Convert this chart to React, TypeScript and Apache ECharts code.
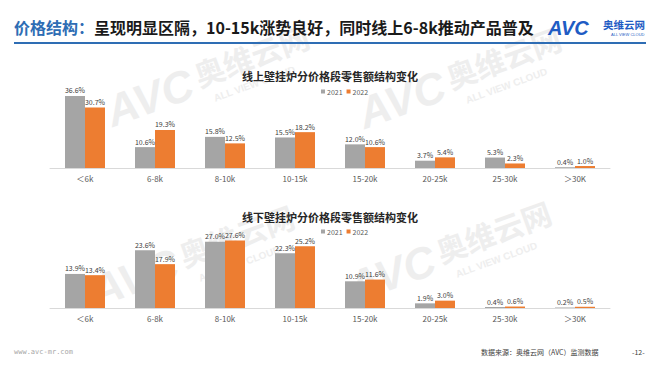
import React, { useEffect, useRef } from "react";
import * as echarts from "echarts";

const categories = ["＜6k", "6-8k", "8-10k", "10-15k", "15-20k", "20-25k", "25-30k", "＞30K"];
const seriesNames = ["2021", "2022"];
const online2021 = [36.6, 10.6, 15.8, 15.5, 12.0, 3.7, 5.3, 0.4];
const online2022 = [30.7, 19.3, 12.5, 18.2, 10.6, 5.4, 2.3, 1.0];
const offline2021 = [13.9, 23.6, 27.0, 22.3, 10.9, 1.9, 0.4, 0.2];
const offline2022 = [13.4, 17.9, 27.6, 25.2, 11.6, 3.0, 0.6, 0.5];

const pageTitleBlue = "价格结构：";
const pageTitleRest = "呈现明显区隔，10-15k涨势良好，同时线上6-8k推动产品普及";
const chartTitleTop = "线上壁挂炉分价格段零售额结构变化";
const chartTitleBottom = "线下壁挂炉分价格段零售额结构变化";
const footerLeft = "www.avc-mr.com";
const footerSource = "数据来源：奥维云网（AVC）监测数据";
const pageNo = "-12-";

const GRAY = "#a5a5a5";
const ORANGE = "#ed7d31";
const FONT = "'Noto Sans CJK SC', 'Noto Sans', sans-serif";

function watermark(x: number, y: number) {
  const c = "#eeeeee";
  return {
    type: "group",
    x,
    y,
    rotation: (20 * Math.PI) / 180,
    z: 0,
    silent: true,
    children: [
      { type: "text", x: 0, y: 0, style: { text: "AVC", fontSize: 44, fontWeight: "bold", fontStyle: "italic", fill: c, fontFamily: "Arial" } },
      { type: "text", x: 95, y: 2, style: { text: "奥维云网", fontSize: 30, fontWeight: "bold", fill: c, fontFamily: FONT } },
      { type: "text", x: 105, y: 40, style: { text: "ALL VIEW CLOUD", fontSize: 10, fontWeight: "bold", fill: c, fontFamily: "Arial" } },
    ],
  };
}

export default function App() {
  const ref = useRef<HTMLDivElement>(null);
  useEffect(() => {
    if (!ref.current) return;
    const chart = echarts.init(ref.current, undefined, { renderer: "svg" });
    const label = {
      show: true,
      position: "top",
      distance: 2,
      fontSize: 7,
      color: "#404040",
      fontFamily: FONT,
      formatter: (p: any) => Number(p.value).toFixed(1) + "%",
    };
    const xAxisCommon = {
      type: "category",
      data: categories,
      axisLine: { lineStyle: { color: "#d9d9d9", width: 1 } },
      axisTick: { show: false },
      axisLabel: { fontSize: 8, color: "#595959", margin: 6, fontFamily: FONT },
    };
    const yAxisCommon = {
      type: "value",
      min: 0,
      show: false,
      splitLine: { show: false },
    };
    const barCommon = { type: "bar", barWidth: 20, barGap: "0%", label, z: 3 };
    const legendCommon = {
      data: seriesNames,
      itemWidth: 4,
      itemHeight: 4,
      itemGap: 4,
      icon: "rect",
      textStyle: { fontSize: 7, color: "#595959", fontFamily: FONT, padding: [0, 0, 0, -3] },
      left: 316,
    };
    chart.setOption({
      animation: false,
      backgroundColor: "#ffffff",
      color: [GRAY, ORANGE],
      title: [
        { text: chartTitleTop, left: "center", top: 65, textStyle: { fontSize: 11, fontWeight: "bold", color: "#262626", fontFamily: FONT } },
        { text: chartTitleBottom, left: "center", top: 206, textStyle: { fontSize: 11, fontWeight: "bold", color: "#262626", fontFamily: FONT } },
      ],
      legend: [
        { ...legendCommon, top: 83 },
        { ...legendCommon, top: 223 },
      ],
      grid: [
        { left: 50, width: 560, top: 89.2, height: 78.8 },
        { left: 50, width: 560, top: 234.5, height: 73.5 },
      ],
      xAxis: [
        { ...xAxisCommon, gridIndex: 0 },
        { ...xAxisCommon, gridIndex: 1 },
      ],
      yAxis: [
        { ...yAxisCommon, gridIndex: 0, max: 40 },
        { ...yAxisCommon, gridIndex: 1, max: 30 },
      ],
      series: [
        { ...barCommon, name: seriesNames[0], data: online2021, xAxisIndex: 0, yAxisIndex: 0, itemStyle: { color: GRAY } },
        { ...barCommon, name: seriesNames[1], data: online2022, xAxisIndex: 0, yAxisIndex: 0, itemStyle: { color: ORANGE } },
        { ...barCommon, name: seriesNames[0], data: offline2021, xAxisIndex: 1, yAxisIndex: 1, itemStyle: { color: GRAY } },
        { ...barCommon, name: seriesNames[1], data: offline2022, xAxisIndex: 1, yAxisIndex: 1, itemStyle: { color: ORANGE } },
      ],
      graphic: [
        watermark(100, 92),
        watermark(352, 94),
        watermark(85, 272),
        watermark(342, 268),
        { type: "text", x: 14, y: 19, z: 10, style: { text: pageTitleBlue, fontSize: 16, fontWeight: "bold", fill: "#2e6db4", fontFamily: FONT } },
        { type: "text", x: 94, y: 19, z: 10, style: { text: pageTitleRest, fontSize: 16, fontWeight: "bold", fill: "#1a1a1a", fontFamily: FONT } },
        { type: "rect", z: 10, shape: { x: 14, y: 42, width: 632, height: 2 }, style: { fill: "#2e6db4" } },
        { type: "text", x: 548, y: 18, z: 10, style: { text: "AVC", fontSize: 20, fontWeight: "bold", fontStyle: "italic", fill: "#1f5cc4", fontFamily: "Arial" } },
        { type: "text", x: 603, y: 19, z: 10, style: { text: "奥维云网", fontSize: 10.5, fontWeight: "bold", fill: "#1f5cc4", fontFamily: FONT } },
        { type: "text", x: 611, y: 32, z: 10, style: { text: "ALL VIEW CLOUD", fontSize: 4, fill: "#1f5cc4", fontFamily: "Arial" } },
        { type: "text", x: 14, y: 348, z: 10, style: { text: footerLeft, fontSize: 7, fill: "#a6a6a6", fontFamily: "DejaVu Sans Mono" } },
        { type: "text", x: 481, y: 348, z: 10, style: { text: footerSource, fontSize: 7, fill: "#404040", fontFamily: FONT } },
        { type: "text", x: 632, y: 348, z: 10, style: { text: pageNo, fontSize: 7, fill: "#404040", fontFamily: FONT } },
      ],
    });
    return () => chart.dispose();
  }, []);
  return <div ref={ref} style={{ position: "fixed", left: 0, top: 0, width: 660, height: 372 }} />;
}
